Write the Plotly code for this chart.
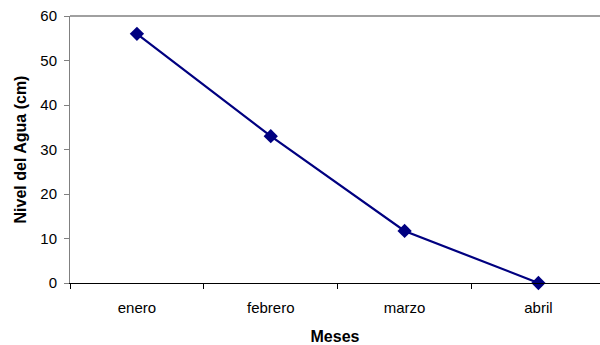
import plotly.graph_objects as go

meses = ["enero", "febrero", "marzo", "abril"]
nivel_agua = [56, 33, 11.7, 0]
y_ticks = [0, 10, 20, 30, 40, 50, 60]

fig = go.Figure()
fig.add_trace(go.Scatter(
    x=meses, y=nivel_agua, mode="lines+markers",
    line=dict(color="#000080", width=2.2),
    marker=dict(symbol="diamond", size=11, color="#000080"),
    cliponaxis=False, showlegend=False,
))

font = dict(family="Liberation Sans, Arial, sans-serif", size=15, color="#000000")

fig.update_layout(
    width=600, height=345,
    margin=dict(l=70, r=0, t=16, b=62),
    paper_bgcolor="white", plot_bgcolor="white",
    font=font,
    xaxis=dict(
        type="category", range=[-0.5, 3.46],
        showline=True, linecolor="#000000", linewidth=1,
        ticks="outside", ticklen=5, tickcolor="#000000", tickson="boundaries",
        showgrid=False, zeroline=False,
        title=dict(text="<b>Meses</b>", font=dict(size=16), standoff=19),
        ticklabelstandoff=11,
    ),
    yaxis=dict(
        range=[0, 60], tickvals=y_ticks,
        showline=True, linecolor="#808080", linewidth=1,
        ticks="outside", ticklen=5, tickcolor="#808080",
        showgrid=False, zeroline=False,
        ticklabelstandoff=4,
        title=dict(text="<b>Nivel del Agua (cm)</b>", font=dict(size=16), standoff=9),
    ),
    shapes=[dict(type="line", xref="paper", yref="paper", x0=0, x1=1, y0=1, y1=1,
                 line=dict(color="#808080", width=1.5))],
)

fig.write_html("out.html")
